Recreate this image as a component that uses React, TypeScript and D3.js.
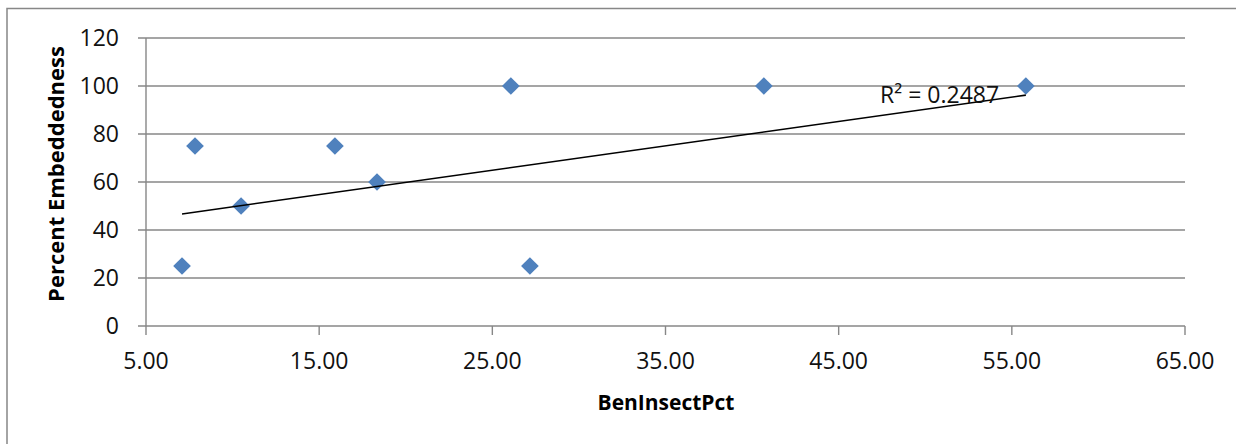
import React from "react";
import * as d3 from "d3";

const benInsectPct = [7.08, 7.83, 10.49, 15.91, 18.34, 26.07, 27.17, 40.68, 55.81];
const percentEmbeddedness = [25, 75, 50, 75, 60, 100, 25, 100, 100];
const trendX = [7.08, 55.81];
const trendY = [46.7, 96.2];
const xTicks = [5, 15, 25, 35, 45, 55, 65];
const yTicks = [0, 20, 40, 60, 80, 100, 120];
const rSquaredLabel = "R² = 0.2487";
const xTitle = "BenInsectPct";
const yTitle = "Percent Embeddedness";

const W = 1236;
const H = 444;
const M = { left: 146, right: 1185, top: 38, bottom: 326 };
const FONT = "'Open Sans', 'Noto Sans', sans-serif";
const GRID = "#878787";

export default function App() {
  const x = d3.scaleLinear().domain([5, 65]).range([M.left, M.right]);
  const y = d3.scaleLinear().domain([0, 120]).range([M.bottom, M.top]);
  const line = d3
    .line<number>()
    .x((d, i) => x(trendX[i]))
    .y((d) => y(d));
  const diamond = d3.symbol().type(d3.symbolDiamond2).size(200)();
  return (
    <svg
      width={W}
      height={H}
      style={{ position: "absolute", left: 0, top: 0, background: "#fff" }}
    >
      <rect x={7} y={8.5} width={W + 20} height={H + 20} fill="#fff" stroke={GRID} strokeWidth={1.5} />
      {yTicks.map((t) => (
        <g key={"y" + t}>
          <line x1={M.left - 8} x2={M.right} y1={y(t)} y2={y(t)} stroke={GRID} strokeWidth={1.4} />
          <text
            x={119}
            y={y(t)}
            dy="0.36em"
            textAnchor="end"
            fontFamily={FONT}
            fontSize={23}
            fill="#111"
          >
            {t}
          </text>
        </g>
      ))}
      <line x1={M.left} x2={M.left} y1={M.top} y2={M.bottom} stroke={GRID} strokeWidth={1.4} />
      {xTicks.map((t) => (
        <g key={"x" + t}>
          <line x1={x(t)} x2={x(t)} y1={M.bottom} y2={M.bottom + 9} stroke={GRID} strokeWidth={1.4} />
          <text
            x={x(t)}
            y={369}
            textAnchor="middle"
            fontFamily={FONT}
            fontSize={23}
            fill="#111"
          >
            {t.toFixed(2)}
          </text>
        </g>
      ))}
      {benInsectPct.map((v, i) => (
        <path
          key={"p" + i}
          d={diamond || ""}
          transform={`translate(${x(v)},${y(percentEmbeddedness[i])}) scale(1,1)`}
          fill="#4F81BD"
        />
      ))}
      <path d={line(trendY) || ""} fill="none" stroke="#000" strokeWidth={1.6} />
      <text x={880} y={103} fontFamily={FONT} fontSize={23} fill="#111">
        {rSquaredLabel}
      </text>
      <text
        x={666}
        y={410}
        textAnchor="middle"
        fontFamily={FONT}
        fontSize={21}
        fontWeight="bold"
        fill="#000"
      >
        {xTitle}
      </text>
      <text
        transform={`translate(64,174) rotate(-90)`}
        textAnchor="middle"
        fontFamily={FONT}
        fontSize={22}
        fontWeight="bold"
        fill="#000"
      >
        {yTitle}
      </text>
    </svg>
  );
}
